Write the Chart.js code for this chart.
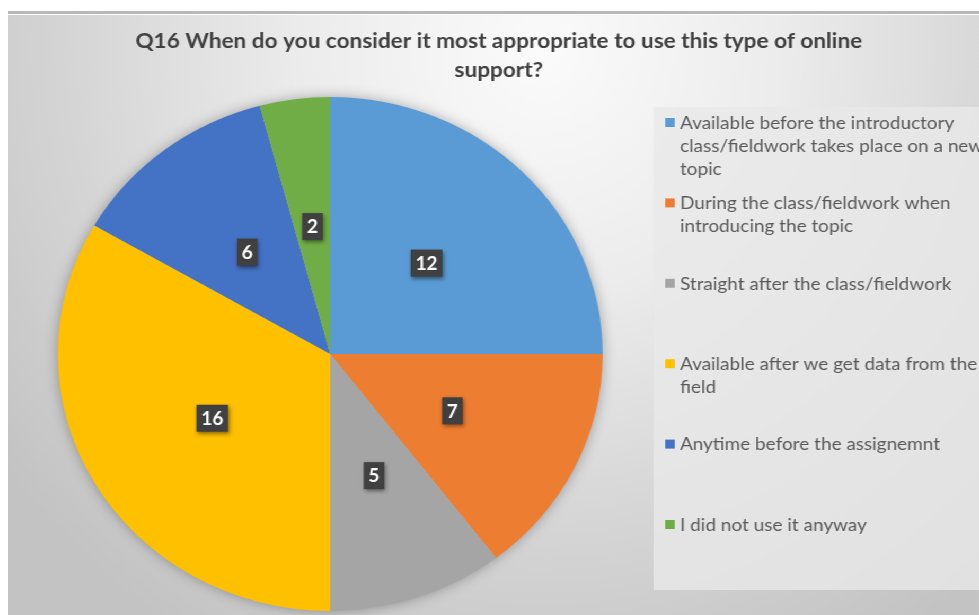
<!DOCTYPE html>
<html>
<head>
<meta charset="utf-8">
<script src="https://cdn.jsdelivr.net/npm/chart.js@4.4.1/dist/chart.umd.min.js"></script>
<style>
  html, body { margin: 0; padding: 0; background: #fff; }
  #topline { position: absolute; left: 8px; top: 11px; width: 971px; height: 3px; background: #b8b8b8; }
  #wrap {
    position: absolute; left: 8px; top: 15px; width: 916px; height: 600px;
    transform: scaleX(1.06); transform-origin: 0 0;
    background: radial-gradient(ellipse 70% 115% at 55% 6%, #fbfbfb 0%, #ececec 35%, #d6d6d6 68%, #c3c3c3 100%);
  }
</style>
</head>
<body>
<div id="topline"></div>
<div id="wrap"><canvas id="chart" width="916" height="600"></canvas></div>
<script>
const titleLines = ["Q16 When do you consider it most appropriate to use this type of online", "support?"];
const categories = [
  "Available before the introductory class/fieldwork takes place on a new topic",
  "During the class/fieldwork when introducing the topic",
  "Straight after the class/fieldwork",
  "Available after we get data from the field",
  "Anytime before the assignemnt",
  "I did not use it anyway",
];
const counts = [12, 7, 5, 16, 6, 2];
const sliceColors = ["#5B9BD5", "#ED7D31", "#A5A5A5", "#FFC000", "#4472C4", "#70AD47"];

const FONT = "Lato, 'Open Sans', sans-serif";

// light panel behind the legend
const legendPanel = {
  id: "legendPanel",
  beforeDraw(chart) {
    const ctx = chart.ctx;
    ctx.save();
    ctx.fillStyle = "rgba(232,232,232,0.8)";
    ctx.fillRect(609, 92, 307, 483);
    ctx.restore();
  },
};

// two-line title centred over the whole chart
const chartTitle = {
  id: "chartTitle",
  beforeDraw(chart) {
    const ctx = chart.ctx;
    ctx.save();
    let size = 22;
    ctx.font = "bold " + size + "px " + FONT;
    const w = ctx.measureText(titleLines[0]).width;
    size = Math.min(24, size * 686 / w);
    ctx.font = "bold " + size.toFixed(1) + "px " + FONT;
    ctx.fillStyle = "#404040";
    ctx.textAlign = "center";
    ctx.textBaseline = "middle";
    titleLines.forEach((line, i) => ctx.fillText(line, 463, 26 + i * 29));
    ctx.restore();
  },
};

// soft shadow round the pie
const pieShadow = {
  id: "pieShadow",
  beforeDatasetsDraw(chart) {
    const arc = chart.getDatasetMeta(0).data[0];
    if (!arc) return;
    const ctx = chart.ctx;
    ctx.save();
    ctx.shadowColor = "rgba(0,0,0,0.35)";
    ctx.shadowBlur = 14;
    ctx.fillStyle = "#bbb";
    ctx.beginPath();
    ctx.arc(arc.x, arc.y, arc.outerRadius - 1, 0, Math.PI * 2);
    ctx.fill();
    ctx.restore();
  },
};

// dark boxes with the counts
const valueBoxes = {
  id: "valueBoxes",
  afterDatasetsDraw(chart) {
    const ctx = chart.ctx;
    const meta = chart.getDatasetMeta(0);
    ctx.save();
    ctx.font = "bold 18px " + FONT;
    ctx.textAlign = "center";
    ctx.textBaseline = "middle";
    meta.data.forEach((arc, i) => {
      const p = arc.getCenterPoint();
      const txt = String(counts[i]);
      const w = ctx.measureText(txt).width + 9;
      const h = 27;
      ctx.shadowColor = "rgba(0,0,0,0.45)";
      ctx.shadowBlur = 4;
      ctx.shadowOffsetX = 1;
      ctx.shadowOffsetY = 2;
      ctx.fillStyle = "#404040";
      ctx.fillRect(p.x - w / 2, p.y - h / 2, w, h);
      ctx.shadowColor = "transparent";
      ctx.fillStyle = "#ffffff";
      ctx.fillText(txt, p.x, p.y + 1);
    });
    ctx.restore();
  },
};

function wrap(ctx, text, maxW) {
  const words = text.split(" ");
  const lines = [];
  let cur = "";
  words.forEach((w) => {
    const t = cur ? cur + " " + w : w;
    if (cur && ctx.measureText(t).width > maxW) {
      lines.push(cur);
      cur = w;
    } else cur = t;
  });
  if (cur) lines.push(cur);
  return lines;
}

// legend on the right with wrapped labels
const sideLegend = {
  id: "sideLegend",
  afterDraw(chart) {
    const ctx = chart.ctx;
    ctx.save();
    ctx.font = "17.9px " + FONT;
    ctx.textBaseline = "middle";
    categories.forEach((label, i) => {
      const y0 = 108 + i * 80.4;
      ctx.fillStyle = sliceColors[i];
      ctx.fillRect(620, y0 - 5, 9, 9);
      ctx.fillStyle = "#595959";
      wrap(ctx, label, 310).forEach((line, j) => {
        ctx.fillText(line, 634, y0 + j * 23);
      });
    });
    ctx.restore();
  },
};

new Chart(document.getElementById("chart"), {
  type: "pie",
  data: {
    labels: categories,
    datasets: [{
      data: counts,
      backgroundColor: sliceColors,
      borderWidth: 0,
      hoverOffset: 0,
      radius: 257,
    }],
  },
  options: {
    responsive: false,
    animation: false,
    events: [],
    layout: { padding: { left: 47, right: 355, top: 82, bottom: 4 } },
    plugins: {
      legend: { display: false },
      tooltip: { enabled: false },
      title: { display: false },
    },
  },
  plugins: [legendPanel, chartTitle, pieShadow, valueBoxes, sideLegend],
});
</script>
</body>
</html>
